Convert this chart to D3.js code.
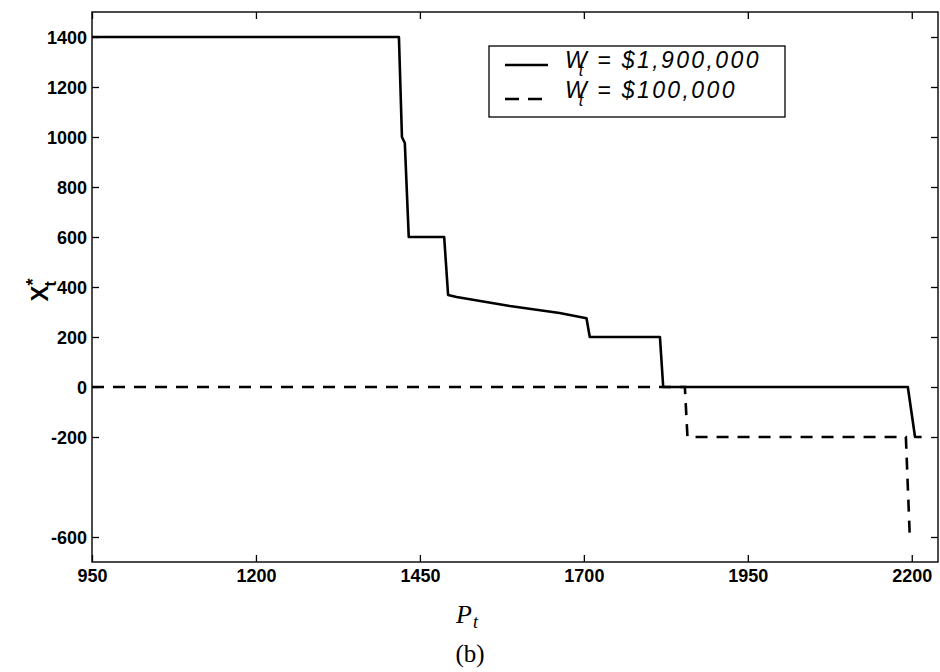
<!DOCTYPE html>
<html>
<head>
<meta charset="utf-8">
<script src="https://cdn.jsdelivr.net/npm/d3@7"></script>
<style>
  html, body { margin: 0; padding: 0; background: #fff; }
  svg { display: block; }
  .tick text { font-family: "Liberation Sans", Arial, sans-serif; font-weight: bold; font-size: 18px; fill: #000; }
  .tick line { stroke: #000; stroke-width: 1.3; }
</style>
</head>
<body>
<svg id="chart" width="940" height="672"></svg>
<script>
// Optimal order size X*_t against price P_t for two wealth levels
const priceHigh = [950, 1418, 1422.6, 1427, 1433, 1487, 1493, 1506, 1587, 1663, 1704, 1709, 1816, 1821, 2194, 2205, 2215];
const orderHigh = [1400, 1400, 1000, 976, 600, 600, 368, 360, 324, 296, 275, 200, 200, 0, 0, -200, -200];

const priceLow = [950, 1854, 1858, 2191, 2197];
const orderLow = [0, 0, -200, -200, -600];

const xTicks = [950, 1200, 1450, 1700, 1950, 2200];
const yTicks = [-600, -200, 0, 200, 400, 600, 800, 1000, 1200, 1400];

const legendHigh = "= $1,900,000";
const legendLow = "= $100,000";

const svg = d3.select("#chart");
const plotLeft = 92, plotRight = 938, plotTop = 12, plotBottom = 562;

const x = d3.scaleLinear().domain([950, 2240]).range([plotLeft, plotRight]);
const y = d3.scaleLinear().domain([-700, 1500]).range([plotBottom, plotTop]);

// axes with inward ticks on all four sides, plain integer labels
const tickLen = 7;
const fmt = d => String(d);
const gBottom = svg.append("g").attr("transform", `translate(0,${plotBottom})`)
  .call(d3.axisBottom(x).tickValues(xTicks).tickFormat(fmt).tickSize(-tickLen).tickPadding(7).tickSizeOuter(0));
const gTop = svg.append("g").attr("transform", `translate(0,${plotTop})`)
  .call(d3.axisTop(x).tickValues(xTicks).tickSize(-tickLen).tickFormat("").tickSizeOuter(0));
const gLeft = svg.append("g").attr("transform", `translate(${plotLeft},0)`)
  .call(d3.axisLeft(y).tickValues(yTicks).tickFormat(fmt).tickSize(-tickLen).tickPadding(5).tickSizeOuter(0));
const gRight = svg.append("g").attr("transform", `translate(${plotRight},0)`)
  .call(d3.axisRight(y).tickValues(yTicks).tickSize(-tickLen).tickFormat("").tickSizeOuter(0));

[gBottom, gTop, gLeft, gRight].forEach(g => g.select(".domain").remove());
gBottom.selectAll(".tick text").attr("dy", "0.71em");
gLeft.selectAll(".tick text").attr("dy", "0.36em");

// plot frame
svg.append("rect")
  .attr("x", plotLeft).attr("y", plotTop)
  .attr("width", plotRight - plotLeft).attr("height", plotBottom - plotTop)
  .attr("fill", "none").attr("stroke", "#000").attr("stroke-width", 1.4);

const line = d3.line().x(d => x(d[0])).y(d => y(d[1]));
const high = priceHigh.map((p, i) => [p, orderHigh[i]]);
const low = priceLow.map((p, i) => [p, orderLow[i]]);

svg.append("path").datum(low)
  .attr("d", line).attr("fill", "none").attr("stroke", "#000")
  .attr("stroke-width", 2.6).attr("stroke-dasharray", "12,9");
svg.append("path").datum(high)
  .attr("d", line).attr("fill", "none").attr("stroke", "#000")
  .attr("stroke-width", 2.6).attr("stroke-linejoin", "round");

// legend
const lg = svg.append("g");
lg.append("rect").attr("x", 489).attr("y", 46).attr("width", 296).attr("height", 71)
  .attr("fill", "#fff").attr("stroke", "#000").attr("stroke-width", 1.3);
lg.append("line").attr("x1", 505).attr("x2", 548).attr("y1", 65).attr("y2", 65)
  .attr("stroke", "#000").attr("stroke-width", 2.6);
lg.append("line").attr("x1", 505).attr("x2", 548).attr("y1", 99).attr("y2", 99)
  .attr("stroke", "#000").attr("stroke-width", 2.6).attr("stroke-dasharray", "14,9");

function legendText(yBase, label) {
  const t = lg.append("text").attr("x", 565).attr("y", yBase)
    .attr("font-family", "'Liberation Sans', Arial, sans-serif")
    .attr("font-style", "italic").attr("font-size", 23).attr("fill", "#000");
  t.append("tspan").text("W");
  t.append("tspan").attr("font-size", 16).attr("dx", -8).attr("dy", 8).text("t");
  t.append("tspan").attr("dy", -8).attr("dx", 14).attr("letter-spacing", 2.4).text(label);
}
legendText(68, legendHigh);
legendText(98, legendLow);

// axis titles
const yl = svg.append("text")
  .attr("transform", "translate(48,290) rotate(-90)")
  .attr("text-anchor", "middle")
  .attr("font-family", "'Liberation Sans', Arial, sans-serif")
  .attr("font-weight", "bold").attr("font-size", 24).attr("fill", "#000");
yl.append("tspan").text("X");
yl.append("tspan").attr("font-size", 18).attr("dy", -9).text("*");
yl.append("tspan").attr("font-size", 16).attr("dx", -8).attr("dy", 17).text("t");

const xl = svg.append("text").attr("x", 456).attr("y", 623)
  .attr("font-family", "'Liberation Serif', 'Times New Roman', serif")
  .attr("font-style", "italic").attr("font-size", 26).attr("fill", "#000");
xl.append("tspan").text("P");
xl.append("tspan").attr("font-size", 18).attr("dy", 5).attr("dx", 1).text("t");

svg.append("text").attr("x", 470).attr("y", 662).attr("text-anchor", "middle")
  .attr("font-family", "'Liberation Serif', 'Times New Roman', serif")
  .attr("font-size", 25).attr("fill", "#000").text("(b)");
</script>
</body>
</html>
